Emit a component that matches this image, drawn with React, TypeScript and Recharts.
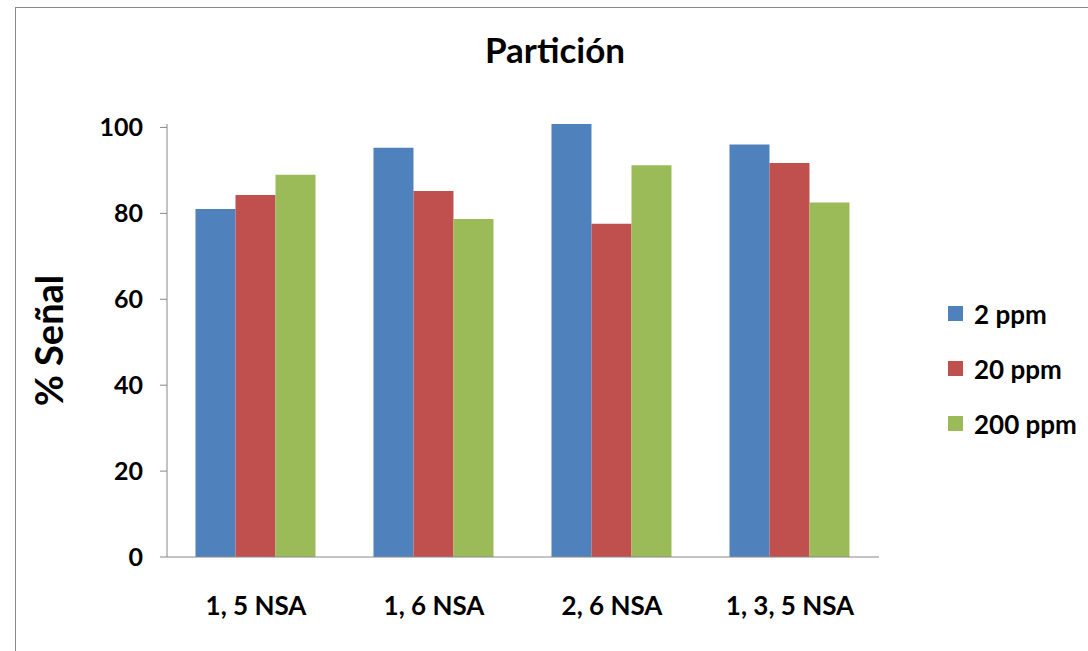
import { BarChart, Bar, XAxis, YAxis, Legend } from "recharts";

const categories = ["1, 5 NSA", "1, 6 NSA", "2, 6 NSA", "1, 3, 5 NSA"];
const ppm2 = [81, 95.3, 100.8, 96];
const ppm20 = [84.3, 85.2, 77.6, 91.7];
const ppm200 = [89, 78.7, 91.2, 82.5];
const yTicks = [0, 20, 40, 60, 80, 100];

const series = [
  { key: "p2", name: "2 ppm", color: "#4F81BD" },
  { key: "p20", name: "20 ppm", color: "#C0504D" },
  { key: "p200", name: "200 ppm", color: "#9BBB59" },
];

const data = categories.map((c, i) => ({ cat: c, p2: ppm2[i], p20: ppm20[i], p200: ppm200[i] }));

const font = "Lato, 'Open Sans', sans-serif";

function LegendBox() {
  return (
    <div style={{ fontFamily: font, fontWeight: 700, fontSize: 26, color: "#000" }}>
      {series.map((s) => (
        <div key={s.key} style={{ display: "flex", alignItems: "center", height: 55 }}>
          <span style={{ width: 15, height: 15, background: s.color, marginRight: 11, display: "inline-block" }} />
          {s.name}
        </div>
      ))}
    </div>
  );
}

export default function App() {
  return (
    <div style={{ position: "absolute", left: 0, top: 0, width: 1088, height: 651, overflow: "hidden", background: "#fff" }}>
      <div style={{ position: "absolute", left: 15, top: 7, width: 1100, height: 700, border: "1px solid #8a8a8a" }} />
      <div
        style={{
          position: "absolute",
          left: 0,
          top: 28,
          width: 1110,
          textAlign: "center",
          fontFamily: font,
          fontWeight: 700,
          fontSize: 35,
          color: "#000",
        }}
      >
        Partición
      </div>
      <div style={{ position: "absolute", left: 0, top: 0 }}>
        <BarChart
          width={1088}
          height={651}
          data={data}
          margin={{ top: 124, right: 209, bottom: 34, left: 30 }}
          barCategoryGap="16%"
          barGap={0}
        >
          <XAxis
            dataKey="cat"
            height={60}
            tickLine={false}
            axisLine={{ stroke: "#888" }}
            tickMargin={34}
            tick={{ fontFamily: font, fontWeight: 700, fontSize: 26, fill: "#000" }}
          />
          <YAxis
            width={137}
            domain={[0, "dataMax"]}
            ticks={yTicks}
            tickSize={7}
            tickMargin={17}
            axisLine={{ stroke: "#888" }}
            tickLine={{ stroke: "#888" }}
            tick={{ fontFamily: font, fontWeight: 700, fontSize: 25, fill: "#000" }}
            label={{
              value: "% Señal",
              angle: -90,
              position: "insideLeft",
              offset: 20,
              style: { fontFamily: font, fontWeight: 700, fontSize: 38, fill: "#000", textAnchor: "middle" },
            }}
          />
          <Legend
            layout="horizontal"
            align="center"
            verticalAlign="middle"
            content={() => <LegendBox />}
            wrapperStyle={{ left: 948, top: 286, width: 140 }}
          />
          {series.map((s) => (
            <Bar key={s.key} dataKey={s.key} name={s.name} fill={s.color} isAnimationActive={false} />
          ))}
        </BarChart>
      </div>
    </div>
  );
}
